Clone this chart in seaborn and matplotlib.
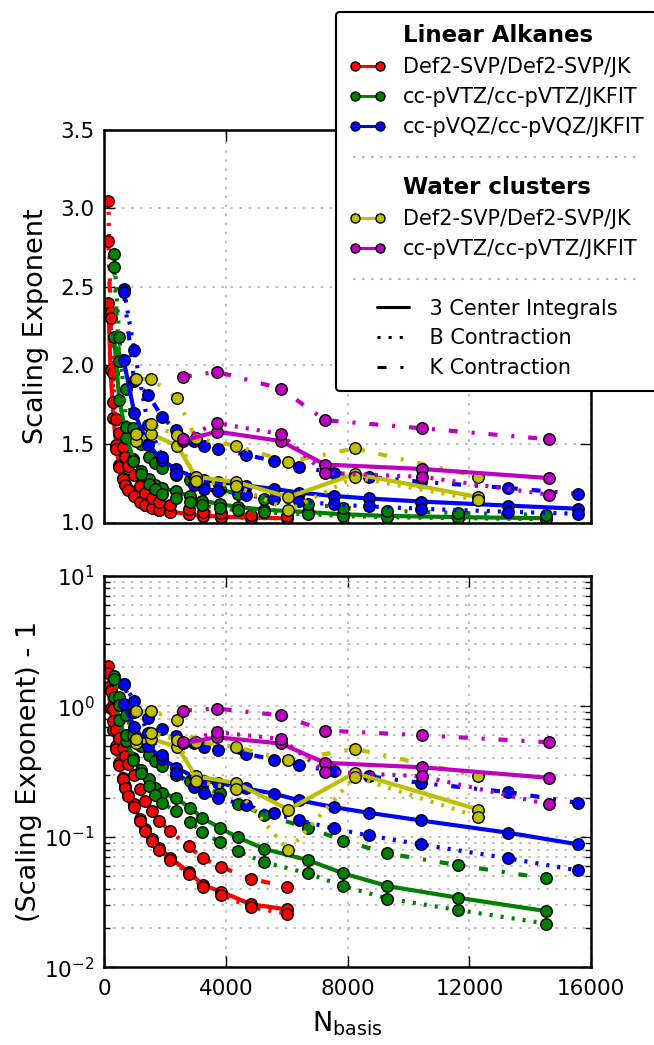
import matplotlib
matplotlib.use('Agg')
import numpy as np
import seaborn as sns
from matplotlib import pyplot as plt
from matplotlib.lines import Line2D
from matplotlib.legend_handler import HandlerBase
from matplotlib.transforms import IdentityTransform

# basis set sizes (x) and (scaling exponent - 1)
alkane_svp_nbasis = [130, 202, 298, 394, 490, 610, 682, 778, 970, 1162, 1330, 1570,
                     1810, 2170, 2770, 3250, 3850, 4810, 6010]
alkane_svp_3c = [1.40, 0.97, 0.663, 0.494, 0.369, 0.283, 0.244, 0.211, 0.177, 0.136,
                 0.114, 0.0956, 0.0826, 0.069, 0.0539, 0.0427, 0.0380, 0.0305, 0.0278]
alkane_svp_b = [2.05, 1.34, 0.95, 0.47, 0.355, 0.275, 0.238, 0.205, 0.170, 0.133,
                0.111, 0.093, 0.080, 0.067, 0.052, 0.041, 0.036, 0.0289, 0.0258]
alkane_svp_k = [1.79, 1.30, 0.768, 0.66, 0.573, 0.48, 0.415, 0.36, 0.30, 0.231,
                0.188, 0.157, 0.132, 0.110, 0.0848, 0.0683, 0.0588, 0.0478, 0.0415]

alkane_tz_nbasis = [318, 492, 724, 956, 1188, 1478, 1652, 1884, 2348, 2812, 3218, 3798,
                    4378, 5248, 6698, 7858, 9308, 11628, 14528]
alkane_tz_3c = [1.18, 0.78, 0.54, 0.403, 0.328, 0.275, 0.237, 0.218, 0.199, 0.167,
                0.140, 0.117, 0.0995, 0.081, 0.0663, 0.0525, 0.042, 0.0342, 0.027]
alkane_tz_b = [1.71, 1.18, 0.607, 0.39, 0.31, 0.244, 0.211, 0.183, 0.157, 0.130,
               0.109, 0.091, 0.0778, 0.064, 0.0525, 0.042, 0.0337, 0.0275, 0.0217]
alkane_tz_k = [1.63, 1.03, 0.85, 0.60, 0.50, 0.42, 0.38, 0.35, 0.30, 0.27,
               0.24, 0.215, 0.179, 0.148, 0.117, 0.0938, 0.0746, 0.0607, 0.0481]

alkane_qz_nbasis = [635, 980, 1440, 1900, 2360, 2935, 3280, 3740, 4660, 5580, 6385,
                    7535, 8685, 10410, 13285, 15585]
alkane_qz_3c = [1.035, 0.70, 0.494, 0.398, 0.338, 0.29, 0.27, 0.259, 0.235, 0.214,
                0.191, 0.169, 0.153, 0.1335, 0.1075, 0.0875]
alkane_qz_b = [1.49, 1.10, 0.62, 0.42, 0.306, 0.24, 0.215, 0.199, 0.174, 0.151,
               0.134, 0.116, 0.1025, 0.0875, 0.0684, 0.0553]
alkane_qz_k = [1.47, 0.90, 0.815, 0.671, 0.589, 0.52, 0.489, 0.466, 0.432, 0.391,
               0.354, 0.318, 0.291, 0.259, 0.220, 0.182]

water_svp_nbasis = [1056, 1536, 2400, 3000, 4320, 6048, 8232, 12288]
water_svp_3c = [0.519, 0.563, 0.489, 0.291, 0.259, 0.162, 0.309, 0.162]
water_svp_b = [0.563, 0.625, 0.556, 0.267, 0.233, 0.0787, 0.288, 0.1425]
water_svp_k = [0.915, 0.915, 0.79, 0.536, 0.489, 0.386, 0.472, 0.291]

water_tz_nbasis = [2580, 3700, 5800, 7250, 10440, 14620]
water_tz_3c = [0.52, 0.579, 0.519, 0.369, 0.341, 0.283]
water_tz_b = [0.535, 0.633, 0.563, 0.315, 0.291, 0.177]
water_tz_k = [0.927, 0.96, 0.853, 0.652, 0.600, 0.530]

alkane_labels = ['Def2-SVP/Def2-SVP/JK', 'cc-pVTZ/cc-pVTZ/JKFIT', 'cc-pVQZ/cc-pVQZ/JKFIT']
water_labels = ['Def2-SVP/Def2-SVP/JK', 'cc-pVTZ/cc-pVTZ/JKFIT']
style_labels = ['3 Center Integrals', 'B Contraction', 'K Contraction']

RED, GREEN, BLUE = (1, 0, 0), (0, 0.5, 0), (0, 0, 1)
YELLOW, MAGENTA = (0.75, 0.75, 0), (0.75, 0, 0.75)
SOLID = '-'
DOTTED = (0, (2.2, 5.8))
DASHDOT = (0, (6.5, 10, 2.2, 10))

groups = [
    (alkane_svp_nbasis, [alkane_svp_3c, alkane_svp_b, alkane_svp_k], RED),
    (alkane_tz_nbasis, [alkane_tz_3c, alkane_tz_b, alkane_tz_k], GREEN),
    (alkane_qz_nbasis, [alkane_qz_3c, alkane_qz_b, alkane_qz_k], BLUE),
    (water_svp_nbasis, [water_svp_3c, water_svp_b, water_svp_k], YELLOW),
    (water_tz_nbasis, [water_tz_3c, water_tz_b, water_tz_k], MAGENTA),
]

sns.set_style('ticks')
plt.rcParams.update({
    'font.family': ['DejaVu Sans'],
    'mathtext.default': 'regular',
    'text.color': 'black', 'axes.labelcolor': 'black',
    'lines.scale_dashes': False,
    'axes.linewidth': 1.8,
    'xtick.direction': 'in', 'ytick.direction': 'in',
    'xtick.top': True, 'ytick.right': True,
    'xtick.major.size': 8, 'ytick.major.size': 8,
    'xtick.minor.size': 4.3, 'ytick.minor.size': 4.3,
    'xtick.major.width': 1, 'ytick.major.width': 1,
    'xtick.minor.width': 1, 'ytick.minor.width': 1,
    'xtick.major.pad': 8, 'ytick.major.pad': 7,
    'xtick.labelsize': 15.5, 'ytick.labelsize': 15.5,
    'axes.labelsize': 19.5,
    'axes.edgecolor': 'black',
    'xtick.color': 'black', 'ytick.color': 'black',
})

fig = plt.figure(figsize=(6.54, 10.45), dpi=100)
ax_top = fig.add_axes([0.1596, 0.5000, 0.7441, 0.3756])
ax_bot = fig.add_axes([0.1596, 0.0742, 0.7441, 0.3749])
ax_bot.set_yscale('log')

grid_kw = dict(color='0.68', linestyle=(0, (1.8, 4.7)), linewidth=1.1)

for x, series, color in groups:
    for y, ls in zip(series, [SOLID, DOTTED, DASHDOT]):
        excess = np.array(y)
        for ax, vals in [(ax_top, excess + 1), (ax_bot, excess)]:
            sns.lineplot(x=x, y=vals, ax=ax, color=color, linestyle=ls, linewidth=3.0,
                         marker='o', markersize=8.3, markeredgecolor='k',
                         markeredgewidth=1.0, estimator=None, sort=False, legend=False)

for ax in (ax_top, ax_bot):
    ax.set_xlim(0, 16000)
    ax.set_xticks([0, 4000, 8000, 12000, 16000])
    ax.grid(True, which='major', **grid_kw)
    ax.set_axisbelow(True)

ax_top.set_ylim(1.0, 3.5)
ax_top.set_yticks([1.0, 1.5, 2.0, 2.5, 3.0, 3.5])
ax_top.tick_params(labelbottom=False)
ax_top.set_ylabel('Scaling Exponent', labelpad=8)

ax_bot.set_ylim(1e-2, 1e1)
ax_bot.grid(True, which='minor', axis='y', **grid_kw)
ax_bot.set_ylabel('(Scaling Exponent) - 1', labelpad=2)
ax_bot.set_xlabel('N$_{basis}$', labelpad=8)


class OffsetLineHandler(HandlerBase):
    def create_artists(self, legend, orig_handle, xdescent, ydescent, width, height,
                       fontsize, trans):
        y = height / 2 - ydescent
        line = Line2D([0.75 * width - xdescent, 1.6 * width - xdescent], [y, y])
        self.update_prop(line, orig_handle, legend)
        line.set_transform(trans)
        return [line]


def blank():
    return Line2D([], [], linestyle='none')


def color_handle(c):
    return Line2D([], [], color=c, linewidth=2.2, marker='o', markersize=6.5,
                  markeredgecolor='k', markeredgewidth=1.0)


style_handles = [Line2D([], [], color='k', linewidth=2.2, linestyle=ls)
                 for ls in [SOLID, DOTTED, DASHDOT]]
handles = ([blank()] + [color_handle(c) for c in (RED, GREEN, BLUE)] + [blank(), blank()]
           + [color_handle(c) for c in (YELLOW, MAGENTA)] + [blank()] + style_handles)
labels = (['Linear Alkanes'] + alkane_labels + [' ', 'Water clusters'] + water_labels
          + [' '] + ['    ' + s for s in style_labels])

leg = fig.legend(handles, labels, loc='upper left',
                 bbox_to_anchor=(336 / 654, 1 - 12 / 1045), bbox_transform=fig.transFigure,
                 fontsize=15, numpoints=2, handlelength=1.8, handletextpad=0.8,
                 labelspacing=0.47, borderpad=0.6, borderaxespad=0, fancybox=True,
                 framealpha=1, edgecolor='black',
                 handler_map={h: OffsetLineHandler() for h in style_handles})
leg.get_frame().set_linewidth(1.5)
for t in leg.get_texts():
    t.set_color('black')
    if t.get_text() in ('Linear Alkanes', 'Water clusters'):
        t.set_fontweight('bold')
        t.set_fontsize(16.5)

fig.canvas.draw()
renderer = fig.canvas.get_renderer()
frame = leg.get_frame().get_window_extent(renderer)
for t in leg.get_texts():
    if t.get_text() == ' ':
        bb = t.get_window_extent(renderer)
        yc = (bb.y0 + bb.y1) / 2
        fig.add_artist(Line2D([frame.x0 + 17, frame.x0 + 302], [yc, yc],
                              transform=IdentityTransform(), color='0.7',
                              linewidth=1.5, linestyle=(0, (1.8, 4.7)), zorder=6))

fig.savefig('out.png', dpi=100)
